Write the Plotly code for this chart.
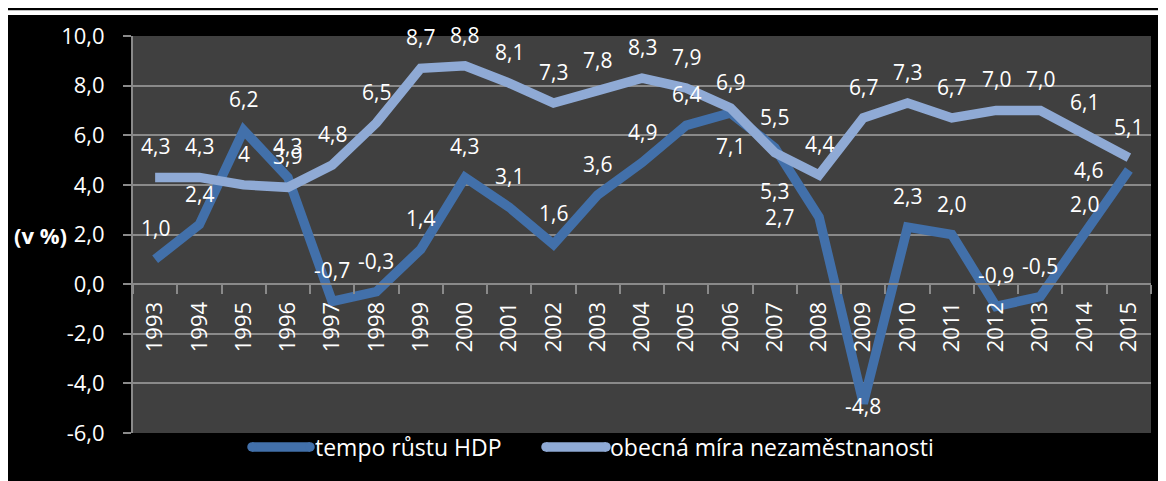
import plotly.graph_objects as go

years = [str(y) for y in range(1993, 2016)]
hdp = [1.0, 2.4, 6.2, 4.3, -0.7, -0.3, 1.4, 4.3, 3.1, 1.6, 3.6, 4.9, 6.4, 6.9, 5.5, 2.7, -4.8, 2.3, 2.0, -0.9, -0.5, 2.0, 4.6]
unemp = [4.3, 4.3, 4.0, 3.9, 4.8, 6.5, 8.7, 8.8, 8.1, 7.3, 7.8, 8.3, 7.9, 7.1, 5.3, 4.4, 6.7, 7.3, 6.7, 7.0, 7.0, 6.1, 5.1]
y_ticks = [-6, -4, -2, 0, 2, 4, 6, 8, 10]
name_hdp = "tempo růstu HDP"
name_unemp = "obecná míra nezaměstnanosti"
y_title = "(v %)"

# label placement codes (style)
pos_hdp = ["t"] * len(years)
pos_hdp[15] = "l"   # 2008
pos_hdp[16] = "c"   # 2009
pos_hdp[22] = "l"   # 2015
pos_unemp = ["t"] * len(years)
pos_unemp[13] = "b"  # 2006
pos_unemp[14] = "b"  # 2007

def fmt(v):
    return f"{v:.1f}".replace(".", ",")

lab_hdp = [fmt(v) for v in hdp]
lab_unemp = [fmt(v) for v in unemp]
lab_unemp[2] = "4"

FONT = "Open Sans"
C_HDP = "#4270AA"
C_UN = "#8FAAD5"
GRID = "#8a8a8a"
LW = 9.5

fig = go.Figure()
fig.add_trace(go.Scatter(x=years, y=hdp, mode="lines", name=name_hdp, showlegend=False,
                         line=dict(color=C_HDP, width=LW)))
fig.add_trace(go.Scatter(x=years, y=unemp, mode="lines", name=name_unemp, showlegend=False,
                         line=dict(color=C_UN, width=LW)))

shift = {"t": (0, 31), "b": (0, -38), "l": (-40, 0), "c": (0, -3)}
for ys, labs, poss in ((hdp, lab_hdp, pos_hdp), (unemp, lab_unemp, pos_unemp)):
    for i, (y, t, p) in enumerate(zip(ys, labs, poss)):
        dx, dy = shift[p]
        fig.add_annotation(x=i, y=y, text=t, showarrow=False, xshift=dx, yshift=dy,
                           font=dict(family=FONT, size=21, color="white"))

# figure geometry (page has 8px body margin)
W, H = 1158, 473
L, R, T, B = 125, 1143, 26, 425

def px(v):
    return (v - L) / (R - L)

def py(v):
    return (B - v) / (B - T)

fig.add_annotation(xref="paper", yref="paper", x=px(61), y=0.5, xanchor="right", yanchor="middle",
                   text="<b>" + y_title + "</b>", showarrow=False,
                   font=dict(family=FONT, size=22, color="white"))

# manual legend
leg_y = 439
for (x0, x1, tx, col, name) in ((244, 302, 305, C_HDP, name_hdp),
                                (538, 598, 600, C_UN, name_unemp)):
    fig.add_shape(type="line", xref="paper", yref="paper", x0=px(x0), x1=px(x1),
                  y0=py(leg_y), y1=py(leg_y), line=dict(color=col, width=LW))
    for xe in (x0, x1):
        fig.add_shape(type="circle", xref="paper", yref="paper", xsizemode="pixel", ysizemode="pixel",
                      xanchor=px(xe), yanchor=py(leg_y), x0=-LW / 2, x1=LW / 2, y0=-LW / 2, y1=LW / 2,
                      fillcolor=col, line=dict(width=0))
    fig.add_annotation(xref="paper", yref="paper", x=px(tx), y=py(leg_y), xanchor="left", yanchor="middle",
                       text=name, showarrow=False, font=dict(family=FONT, size=23, color="white"))

fig.update_layout(
    width=W, height=H,
    margin=dict(l=L, r=W - R, t=T, b=H - B),
    paper_bgcolor="black", plot_bgcolor="#404040",
    separators=", ",
    font=dict(family=FONT, size=21, color="white"),
    showlegend=False,
    xaxis=dict(type="category", range=[-0.5, 22.5], anchor="free", position=0.375,
               showgrid=False, showline=True, linecolor=GRID, linewidth=2,
               ticks="outside", ticklen=9, tickcolor=GRID, tickwidth=2,
               tickson="boundaries", tickangle=-90, ticklabelstandoff=8,
               tickfont=dict(family=FONT, size=22, color="white"), zeroline=False),
    yaxis=dict(range=[-6, 10], tickmode="array", tickvals=y_ticks,
               ticktext=[fmt(v) for v in y_ticks], showgrid=True,
               gridcolor=GRID, gridwidth=2, zeroline=False,
               showline=True, linecolor=GRID, linewidth=2,
               ticks="outside", ticklen=8, tickcolor=GRID, tickwidth=2,
               ticklabelstandoff=14,
               tickfont=dict(family=FONT, size=22, color="white")),
)

# white strip at top, as in the original image
fig.add_shape(type="rect", xref="paper", yref="paper", layer="above",
              x0=px(0), x1=px(W), y0=py(0), y1=py(5),
              fillcolor="white", line=dict(width=0))

fig.write_html("out.html")
